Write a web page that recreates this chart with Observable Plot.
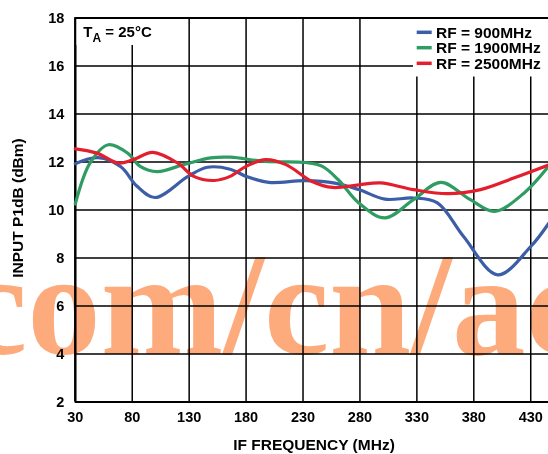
<!DOCTYPE html>
<html><head><meta charset="utf-8">
<script src="https://cdn.jsdelivr.net/npm/d3@7"></script>
<script src="https://cdn.jsdelivr.net/npm/@observablehq/plot@0.6"></script>
<style>
body{margin:0;background:#fff}
#wrap{position:relative;width:548px;height:454px;overflow:hidden;font-family:"Liberation Sans",Arial,sans-serif;font-weight:bold}
#wrap svg.ov{position:absolute;left:0;top:0;pointer-events:none}
</style>
</head><body><div id="wrap"></div>
<script>
// ---- data ----
const seriesNames = ["RF = 900MHz", "RF = 1900MHz", "RF = 2500MHz"];
const seriesColors = ["#3b5ea6", "#2f9c63", "#e31f2d"];

const freq900 = [30, 50, 70, 84, 100, 129, 146, 166, 180, 200, 232, 258, 279, 302, 327, 348, 371, 401, 430, 446];
const p1db900 = [11.93, 12.18, 11.8, 11.0, 10.52, 11.4, 11.78, 11.7, 11.4, 11.15, 11.22, 11.12, 10.85, 10.45, 10.5, 10.3, 8.9, 7.3, 8.48, 9.46];

const freq1900 = [30, 43, 59, 76, 87, 102, 125, 149, 166, 197, 232, 247, 261, 279, 302, 327, 351, 377, 398, 424, 446];
const p1db1900 = [10.25, 11.96, 12.72, 12.37, 11.82, 11.6, 11.89, 12.17, 12.2, 12.02, 11.98, 11.82, 11.26, 10.29, 9.67, 10.43, 11.15, 10.43, 9.94, 10.7, 11.84];

const freq2500 = [30, 49, 68, 81, 98, 120, 134, 152, 166, 180, 197, 215, 238, 256, 279, 298, 327, 357, 386, 415, 446];
const p1db2500 = [12.55, 12.37, 11.95, 12.1, 12.4, 11.95, 11.4, 11.23, 11.4, 11.82, 12.1, 11.89, 11.19, 10.94, 11.05, 11.13, 10.85, 10.68, 10.85, 11.33, 11.88];

const xTicks = [30, 80, 130, 180, 230, 280, 330, 380, 430];
const yTicks = [2, 4, 6, 8, 10, 12, 14, 16, 18];
const xLabel = "IF FREQUENCY (MHz)";
const yLabel = "INPUT P1dB (dBm)";
const noteMain = "T", noteSub = "A", noteRest = " = 25°C";
const watermarkText = "com/cn/ac";

// ---- build rows ----
const rows = [];
[[freq900, p1db900], [freq1900, p1db1900], [freq2500, p1db2500]].forEach(([fs, vs], i) => {
  fs.forEach((f, j) => rows.push({series: seriesNames[i], f, v: vs[j]}));
});

const W = 548, H = 454;
const chart = Plot.plot({
  width: W, height: H,
  marginLeft: 74.8, marginRight: 0, marginTop: 17.5, marginBottom: 52.5,
  x: {domain: [30, 445.6]},
  y: {domain: [2, 18]},
  color: {domain: seriesNames, range: seriesColors},
  style: {fontFamily: '"Liberation Sans", Arial, sans-serif', fontWeight: "bold", fontSize: "14.5px", color: "black", background: "white"},
  marks: [
    Plot.ruleX(xTicks, {stroke: "black", strokeWidth: 1.5}),
    Plot.ruleY(yTicks, {stroke: "black", strokeWidth: 1.5}),
    Plot.ruleX([30], {stroke: "black", strokeWidth: 2.4}),
    Plot.ruleY([2, 18], {stroke: "black", strokeWidth: 2.2}),
    Plot.line(rows, {x: "f", y: "v", z: "series", stroke: "series", curve: "catmull-rom", strokeWidth: 3.2}),
    Plot.axisX(xTicks, {tickSize: 0, tickPadding: 9.5, label: null, fontSize: 14.5}),
    Plot.axisY(yTicks, {tickSize: 0, tickPadding: 11, label: null, fontSize: 14.5})
  ]
});
const wrap = document.getElementById("wrap");
wrap.appendChild(chart);

const NS = "http://www.w3.org/2000/svg";
function el(tag, attrs, parent, text) {
  const e = document.createElementNS(NS, tag);
  for (const k in attrs) e.setAttribute(k, attrs[k]);
  if (text != null) e.textContent = text;
  if (parent) parent.appendChild(e);
  return e;
}

// watermark (multiply blend so the grid stays dark through it)
const wm = el("svg", {class: "ov", width: W, height: H}, null);
wm.style.mixBlendMode = "multiply";
el("text", {x: -38, y: 353.6, "font-family": '"Liberation Serif", "DejaVu Serif", serif', "font-weight": "bold", "font-size": 147, fill: "#fdaa7d"}, wm, watermarkText);
wrap.appendChild(wm);

// annotations
const ov = el("svg", {class: "ov", width: W, height: H}, null);
ov.setAttribute("font-family", '"Liberation Sans", Arial, sans-serif');
ov.setAttribute("font-weight", "bold");
// TA box
el("rect", {x: 76.5, y: 19, width: 90, height: 26, fill: "white"}, ov);
const t = el("text", {x: 83.3, y: 37.3, "font-size": 15, fill: "black"}, ov);
el("tspan", {}, t, noteMain);
el("tspan", {"font-size": 12, dy: 4.7}, t, noteSub);
el("tspan", {dy: -4.7}, t, noteRest);
// legend box
el("rect", {x: 413, y: 19, width: 135, height: 57.5, fill: "white"}, ov);
const legY = [32.3, 47.7, 63.3];
seriesNames.forEach((name, i) => {
  el("line", {x1: 416.7, x2: 431.7, y1: legY[i], y2: legY[i], stroke: seriesColors[i], "stroke-width": 3.5}, ov);
  el("text", {x: 436, y: legY[i] + 5.3, "font-size": 15.5, fill: "black"}, ov, name);
});
// axis titles
el("text", {x: 314, y: 450, "text-anchor": "middle", "font-size": 15.5, fill: "black"}, ov, xLabel);
el("text", {transform: "translate(23,208) rotate(-90)", "text-anchor": "middle", "font-size": 15.5, fill: "black"}, ov, yLabel);
wrap.appendChild(ov);
</script>
</body></html>
